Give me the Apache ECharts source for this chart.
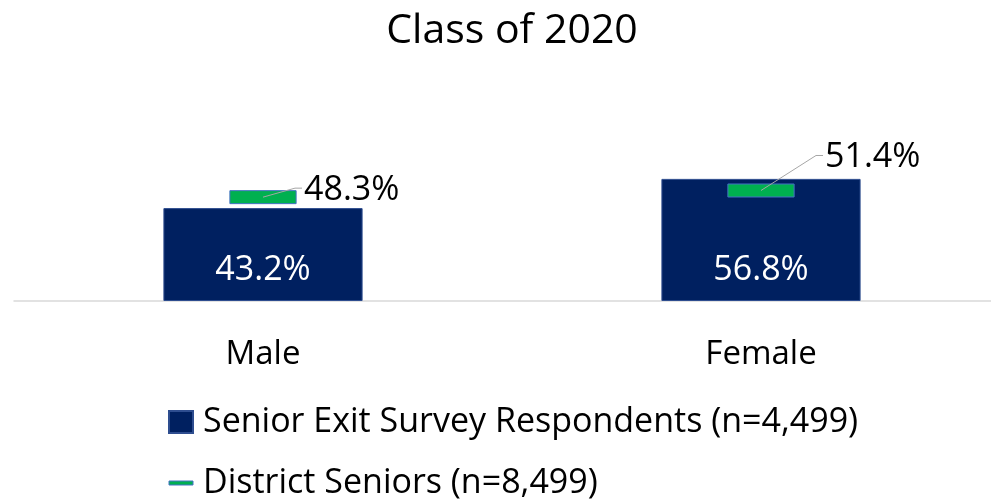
<!DOCTYPE html>
<html>
<head>
<meta charset="utf-8">
<script src="https://cdn.jsdelivr.net/npm/echarts@6/dist/echarts.min.js"></script>
<style>
  html, body { margin: 0; padding: 0; background: #fff; }
  #chart { width: 991px; height: 500px; }
</style>
</head>
<body>
<div id="chart"></div>
<script>
const categories = ["Male", "Female"];
const respondents = [43.2, 56.8];
const districtSeniors = [48.3, 51.4];
const seriesNames = ["Senior Exit Survey Respondents (n=4,499)", "District Seniors (n=8,499)"];

// leader line bend offsets (px) for the district labels
const leaderOffsets = [[32, -9], [55, -35]];

const FONT = '"Open Sans", "Noto Sans", sans-serif';
const fmt = (v) => v.toFixed(1) + "%";

const chart = echarts.init(document.getElementById("chart"));

const option = {
  animation: false,
  textStyle: { fontFamily: FONT },
  graphic: [
    {
      type: "text",
      x: 512,
      y: 31,
      style: {
        text: "Class of 2020",
        fontFamily: FONT,
        fontSize: 41,
        fill: "#000",
        align: "center",
        verticalAlign: "middle",
      },
    },
  ],
  grid: {
    left: 14,
    width: 996,
    top: 172,
    bottom: 199,
    containLabel: false,
    outerBoundsMode: "none",
  },
  legend: {
    orient: "vertical",
    left: 168,
    top: 405,
    height: 150,
    padding: 0,
    itemWidth: 24,
    itemHeight: 22,
    itemGap: 27,
    symbolKeepAspect: true,
    textStyle: { fontSize: 34, color: "#000", fontFamily: FONT, padding: [0, 0, 0, 5] },
    data: [
      { name: seriesNames[0], icon: "rect" },
      {
        name: seriesNames[1],
        icon: "path://M0,0h24v4h-24z",
        itemStyle: { color: "#00B050", borderColor: "#4472C4", borderWidth: 1 },
      },
    ],
  },
  xAxis: {
    type: "category",
    data: categories,
    axisTick: { show: false },
    axisLine: { lineStyle: { color: "#D9D9D9", width: 1.5 } },
    axisLabel: { fontSize: 33, color: "#000", margin: 37, fontFamily: FONT },
  },
  yAxis: {
    type: "value",
    min: 0,
    max: 60,
    show: false,
    splitLine: { show: false },
  },
  series: [
    {
      name: seriesNames[0],
      type: "bar",
      data: respondents,
      barWidth: "40%",
      itemStyle: { color: "#002060", borderColor: "#2E4D8F", borderWidth: 1 },
      label: {
        show: true,
        position: "insideBottom",
        distance: 14,
        color: "#fff",
        fontSize: 34,
        fontFamily: FONT,
        formatter: (p) => fmt(p.value),
      },
      z: 2,
    },
    {
      name: seriesNames[1],
      type: "custom",
      itemStyle: { color: "#00B050" },
      data: districtSeniors.map((v, i) => [i, v]),
      encode: { x: 0, y: 1 },
      z: 3,
      renderItem: (params, api) => {
        const pt = api.coord([api.value(0), api.value(1)]);
        const w = api.size([1, 0])[0] * 0.133;
        const off = leaderOffsets[params.dataIndex];
        const bx = pt[0] + off[0];
        const by = pt[1] + off[1];
        return {
          type: "group",
          children: [
            {
              type: "rect",
              shape: { x: pt[0] - w / 2, y: pt[1] - 6.5, width: w, height: 13 },
              style: { fill: "#00B050", stroke: "#4472C4", lineWidth: 1 },
            },
            {
              type: "polyline",
              shape: { points: [[pt[0], pt[1]], [bx, by], [bx + 7, by]] },
              style: { stroke: "#A6A6A6", lineWidth: 1, fill: null },
              z2: 5,
            },
            {
              type: "text",
              x: bx + 9,
              y: by + 2,
              style: {
                text: fmt(api.value(1)),
                fontFamily: FONT,
                fontSize: 34,
                fill: "#000",
                align: "left",
                verticalAlign: "middle",
              },
            },
          ],
        };
      },
    },
  ],
};

chart.setOption(option);
</script>
</body>
</html>
